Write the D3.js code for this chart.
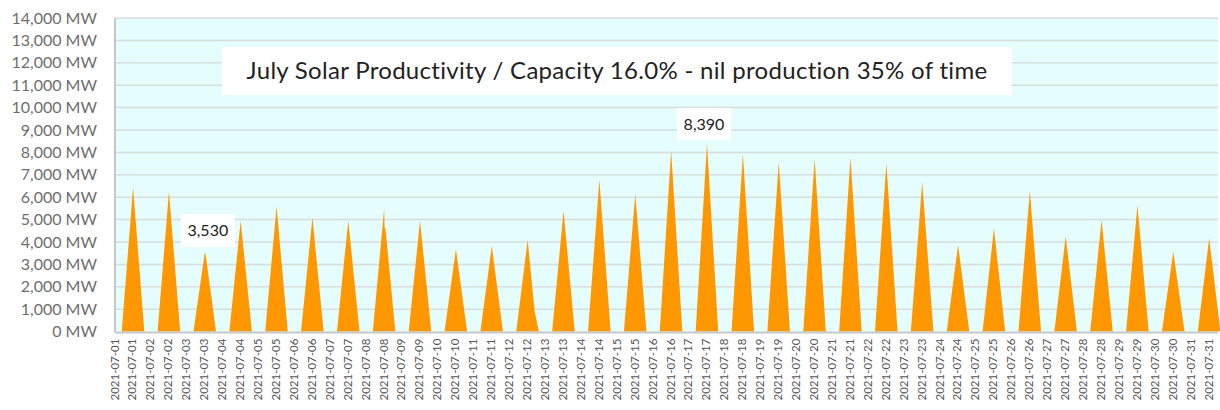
<!DOCTYPE html>
<html lang="en">
<head>
    <meta charset="UTF-8" />
    <title>July Solar Productivity</title>
    <script src="https://d3js.org/d3.v7.min.js"></script>
    <style>
        html, body { margin: 0; padding: 0; background: #fff; }
        #viz { width: 1220px; height: 410px; overflow: hidden; }
        svg { font-family: Lato, "Open Sans", sans-serif; }
    </style>
</head>
<body>
    <div id="viz"></div>
    <script>
        // --- Data ---
        const dayLabels = [
            "2021-07-01", "2021-07-02", "2021-07-03", "2021-07-04", "2021-07-05", "2021-07-06",
            "2021-07-07", "2021-07-08", "2021-07-09", "2021-07-10", "2021-07-11", "2021-07-12",
            "2021-07-13", "2021-07-14", "2021-07-15", "2021-07-16", "2021-07-17", "2021-07-18",
            "2021-07-19", "2021-07-20", "2021-07-21", "2021-07-22", "2021-07-23", "2021-07-24",
            "2021-07-25", "2021-07-26", "2021-07-27", "2021-07-28", "2021-07-29", "2021-07-30",
            "2021-07-31"
        ];
        // daily peak output, MW (solar noon)
        const peakMW = [
            6440, 6250, 3530, 4950, 5580, 5100, 4950, 5500, 4950, 3680, 3820,
            4090, 5390, 6770, 6130, 8070, 8390, 7930, 7560, 7710, 7770, 7520,
            6670, 3870, 4610, 6280, 4240, 4980, 5650, 3570, 4170
        ];
        // sunrise / noon / sunset hours of each daily curve
        const riseHour = 4.5, noonHour = 12.1, setHour = 19.6;
        // extra points on the bumpy days: [day, hour, MW]
        const bumps = [
            ["2021-07-03", 12.7, 3420],
            ["2021-07-08", 12.4, 4560],
            ["2021-07-08", 12.8, 4700],
            ["2021-07-12", 16.8, 900]
        ];
        const yTicks = d3.range(0, 14001, 1000);
        const titleText = "July Solar Productivity / Capacity 16.0% - nil production 35% of time";

        // --- Layout ---
        const W = 1220, H = 410;
        const plotLeft = 115, plotTop = 18, plotBottom = 331.6;
        const dayWidth = 35.87;

        const svg = d3.select("#viz").append("svg")
            .attr("width", W)
            .attr("height", H);

        const parse = d3.utcParse("%Y-%m-%d");
        const start = parse(dayLabels[0]);
        const end = d3.utcDay.offset(parse(dayLabels[dayLabels.length - 1]), 1);

        const x = d3.scaleUtc()
            .domain([start, end])
            .range([plotLeft, plotLeft + dayWidth * dayLabels.length]);
        const y = d3.scaleLinear()
            .domain([0, 14000])
            .range([plotBottom, plotTop]);

        // build the series: one peaked curve per day
        const at = (day, h) => new Date(parse(day).getTime() + h * 3600e3);
        let points = [];
        dayLabels.forEach((day, i) => {
            points.push({ t: at(day, riseHour), v: 0 });
            points.push({ t: at(day, noonHour), v: peakMW[i] });
            bumps.filter(b => b[0] === day).forEach(b => points.push({ t: at(day, b[1]), v: b[2] }));
            points.push({ t: at(day, setHour), v: 0 });
        });
        points.sort((a, b) => a.t - b.t);
        points.unshift({ t: start, v: 0 });
        points.push({ t: end, v: 0 });

        // plot background
        svg.append("rect")
            .attr("x", plotLeft).attr("y", plotTop)
            .attr("width", W - 2 - plotLeft).attr("height", plotBottom - plotTop)
            .attr("fill", "#e6fdfd");

        // gridlines
        svg.append("g")
            .selectAll("line")
            .data(yTicks.slice(1))
            .join("line")
            .attr("x1", plotLeft).attr("x2", W - 2)
            .attr("y1", d => y(d)).attr("y2", d => y(d))
            .attr("stroke", "#d7dddd")
            .attr("stroke-width", 1.5);

        // area
        const area = d3.area()
            .x(d => x(d.t))
            .y0(y(0))
            .y1(d => y(d.v));
        svg.append("path")
            .datum(points)
            .attr("fill", "#ff9700")
            .attr("d", area);

        // axis lines
        svg.append("line")
            .attr("x1", plotLeft).attr("x2", plotLeft)
            .attr("y1", plotTop).attr("y2", plotBottom + 1)
            .attr("stroke", "#c4c8c8").attr("stroke-width", 2);
        svg.append("line")
            .attr("x1", plotLeft).attr("x2", W - 2)
            .attr("y1", plotBottom + 1).attr("y2", plotBottom + 1)
            .attr("stroke", "#c4c8c8").attr("stroke-width", 2);

        // y axis labels
        const yAxis = svg.append("g")
            .attr("transform", `translate(${plotLeft},0)`)
            .call(d3.axisLeft(y)
                .tickValues(yTicks)
                .tickSize(0)
                .tickPadding(18)
                .tickFormat(d => d3.format(",")(d) + " MW"));
        yAxis.select(".domain").remove();
        yAxis.selectAll("text")
            .attr("fill", "#6e6e6e")
            .attr("font-size", 16)
            .attr("font-family", "Lato, sans-serif");

        // x axis labels, every 12 hours (the 08-01 end tick is left out)
        const xAxis = svg.append("g")
            .attr("transform", `translate(0,${plotBottom})`)
            .call(d3.axisBottom(x)
                .tickValues(d3.utcHour.every(12).range(start, end))
                .tickSize(0)
                .tickFormat(d3.utcFormat("%Y-%m-%d")));
        xAxis.select(".domain").remove();
        xAxis.selectAll("text")
            .attr("transform", "rotate(-90)")
            .attr("x", -7)
            .attr("y", -1)
            .attr("dy", "0.35em")
            .attr("text-anchor", "end")
            .attr("fill", "#555")
            .attr("font-size", 11.5)
            .attr("font-family", "Lato, sans-serif");

        // annotation boxes
        function label(cx, cy, w, h, text, size, spacing) {
            const g = svg.append("g");
            g.append("rect")
                .attr("x", cx - w / 2).attr("y", cy - h / 2)
                .attr("width", w).attr("height", h)
                .attr("fill", "#fff");
            g.append("text")
                .attr("x", cx).attr("y", cy)
                .attr("dy", "0.35em")
                .attr("text-anchor", "middle")
                .attr("font-size", size)
                .attr("letter-spacing", spacing)
                .attr("fill", "#222")
                .text(text);
        }
        label(617, 71, 790, 48, titleText, 24, 0.3);

        const iMin = dayLabels.indexOf("2021-07-03");
        const iMax = peakMW.indexOf(d3.max(peakMW));
        label(x(at(dayLabels[iMin], noonHour)) + 3, 230.5, 54, 33, d3.format(",")(peakMW[iMin]), 16, 0);
        label(x(at(dayLabels[iMax], noonHour)) - 3, 124, 54, 32, d3.format(",")(peakMW[iMax]), 16, 0);
    </script>
</body>
</html>
